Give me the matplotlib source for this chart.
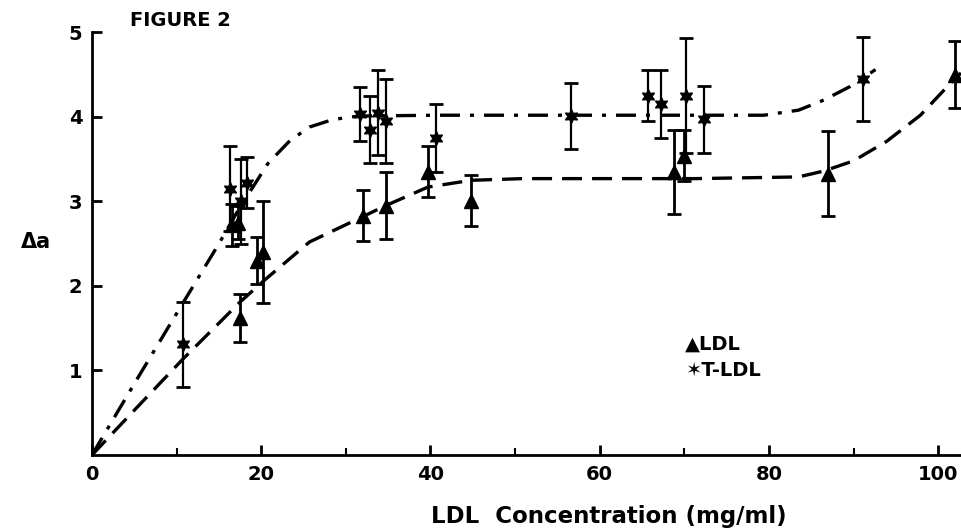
"""
Figure 2 recreation: delta-a vs LDL concentration, LDL and T-LDL with fitted curves.
"""
import matplotlib
matplotlib.use("Agg")
import matplotlib.pyplot as plt
import numpy as np

plt.rcParams["font.family"] = ["DejaVu Sans"]
plt.rcParams["font.weight"] = "bold"

# ── data ─────────────────────────────────────────────────────────────────
ldl_x   = [16.5, 17.3, 17.5, 19.5, 20.2, 32.0, 34.7, 39.7, 44.8, 68.8, 70.0, 87.0, 102.0]
ldl_y   = [2.72, 2.75, 1.62, 2.30, 2.40, 2.83, 2.95, 3.35, 3.01, 3.35, 3.54, 3.33, 4.50]
ldl_err = [0.25, 0.20, 0.28, 0.28, 0.60, 0.30, 0.40, 0.30, 0.30, 0.50, 0.30, 0.50, 0.40]

tldl_x   = [10.7, 16.3, 17.6, 18.3, 31.7, 32.8, 33.8, 34.7, 40.7, 56.6, 65.7, 67.3, 70.2, 72.3, 91.1]
tldl_y   = [1.31, 3.15, 3.00, 3.22, 4.03, 3.85, 4.05, 3.95, 3.75, 4.01, 4.25, 4.15, 4.25, 3.97, 4.45]
tldl_err = [0.50, 0.50, 0.50, 0.30, 0.32, 0.40, 0.50, 0.50, 0.40, 0.39, 0.30, 0.40, 0.68, 0.40, 0.50]

# fitted curves (traced points)
ldl_fit_x = [0, 5.1, 10.7, 17.5, 20.4, 25.7, 32.0, 34.7, 39.7, 44.8, 50.9, 61, 71.2,
             83.5, 86.5, 90.0, 93.9, 97.9, 101.0, 102.7]
ldl_fit_y = [0, 0.54, 1.13, 1.81, 2.07, 2.52, 2.82, 2.95, 3.17, 3.25, 3.27, 3.27, 3.27,
             3.29, 3.36, 3.48, 3.71, 4.02, 4.35, 4.52]

tldl_fit_x = [0, 5.1, 10.7, 15.0, 17.3, 20.8, 23.4, 25.7, 28.5, 31.5, 40.7, 61, 79.4,
              83.5, 86.5, 89.6, 92.6]
tldl_fit_y = [0, 0.86, 1.79, 2.50, 2.90, 3.45, 3.72, 3.88, 3.97, 4.01, 4.02, 4.02, 4.02,
              4.08, 4.20, 4.36, 4.56]

fig = plt.figure(figsize=(9.61, 5.31), dpi=100)
ax = fig.add_axes([0.0957, 0.1431, 0.9043, 0.7959])

ax.plot(ldl_fit_x, ldl_fit_y, color="black", lw=2.4, dashes=(6, 3))
ax.plot(tldl_fit_x, tldl_fit_y, color="black", lw=2.4, dashes=(6, 3, 1.2, 3))

ax.errorbar(ldl_x, ldl_y, yerr=ldl_err, fmt="^", color="black", ms=10,
            ecolor="black", elinewidth=2, capsize=5, capthick=2)
ax.errorbar(tldl_x, tldl_y, yerr=tldl_err, fmt="o", marker=(6, 1, 0), color="black",
            ms=10, ecolor="black", elinewidth=1.6, capsize=5, capthick=2)

ax.set_xlim(0, 102.7)
ax.set_ylim(0, 5)
ax.set_xticks([0, 20, 40, 60, 80, 100])
ax.set_xticks([10, 30, 50, 70, 90], minor=True)
ax.set_yticks([1, 2, 3, 4, 5])
ax.tick_params(axis="both", direction="in", length=7, width=2, labelsize=14, pad=7)
ax.tick_params(axis="x", which="minor", direction="in", length=5, width=1.5)
for lab in ax.get_xticklabels() + ax.get_yticklabels():
    lab.set_fontweight("bold")
ax.spines["top"].set_visible(False)
ax.spines["right"].set_visible(False)
ax.spines["left"].set_linewidth(2)
ax.spines["bottom"].set_linewidth(2)

# legend as plain text like the original
ax.text(70.1, 1.31, "\u25b2LDL", fontsize=14, fontweight="bold", va="center")
ax.text(70.1, 1.00, "\u2736T-LDL", fontsize=14, fontweight="bold", va="center")

fig.text(0.022, 0.545, "\u0394a", fontsize=15, fontweight="bold", va="center")
fig.text(0.135, 0.962, "FIGURE 2", fontsize=14, fontweight="bold", va="center")
fig.text(0.633, 0.028, "LDL  Concentration (mg/ml)", fontsize=16.5, fontweight="bold",
         ha="center", va="center")

plt.savefig("out.png", dpi=100)
plt.close()
